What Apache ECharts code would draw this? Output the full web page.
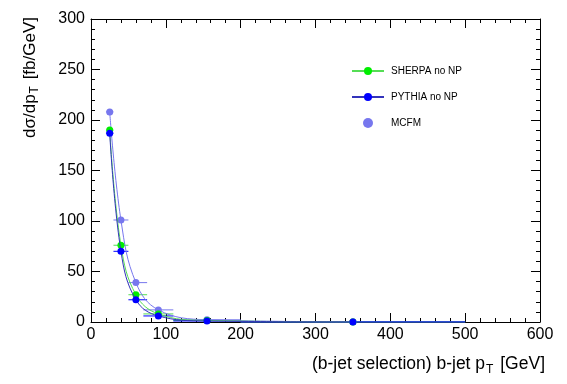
<!DOCTYPE html>
<html><head><meta charset="utf-8">
<script src="https://cdn.jsdelivr.net/npm/echarts@6/dist/echarts.min.js"></script>
<style>html,body{margin:0;padding:0;background:#fff}#c{width:567px;height:384px}</style>
</head><body><div id="c"></div>
<script>
const binCenter = [25, 40, 60, 90, 155, 350];
const binLow    = [20, 30, 50, 70, 110, 200];
const binHigh   = [30, 50, 75, 110, 200, 500];
const sherpa = [190, 76, 27, 8, 1.5, 0.1];
const pythia = [187, 70, 22, 6, 1.0, 0.1];
const mcfm   = [208, 101, 39, 12, 2.2, 0.15];
const xTicks = [0, 100, 200, 300, 400, 500, 600];
const yTicks = [0, 50, 100, 150, 200, 250, 300];

const FONT = 'Liberation Sans';
const cSherpa = '#00ee00', lSherpa = '#55dd55';
const cPythia = '#0000ff', lPythia = '#3333bb';
const cMcfm = '#7777ee';

function pts(v){ return binCenter.map((x,i)=>[x, v[i]]); }
function errData(v){ return binCenter.map((x,i)=>[binLow[i], binHigh[i], v[i]]); }
function errSeries(v, color){
  return {
    type:'custom', silent:true, z:3,
    data: errData(v),
    renderItem(params, api){
      const a = api.coord([api.value(0), api.value(2)]);
      const b = api.coord([api.value(1), api.value(2)]);
      return {type:'line', shape:{x1:a[0],y1:a[1],x2:b[0],y2:b[1]}, style:{stroke:color, lineWidth:1}};
    }
  };
}
const tickCommon = {
  axisLine:{show:true, onZero:false, lineStyle:{color:'#000', width:1}},
  axisTick:{show:true, inside:true, length:9, lineStyle:{color:'#000'}},
  minorTick:{show:true, splitNumber:5, length:4, lineStyle:{color:'#000'}},
  splitLine:{show:false}
};

const chart = echarts.init(document.getElementById('c'), null, {renderer:'canvas'});
chart.setOption({
  animation:false,
  backgroundColor:'#fff',
  grid:{left:91, right:27, top:19, bottom:62},
  legend:{
    orient:'vertical', left:346, top:61, itemGap:16, itemWidth:32, itemHeight:10,
    textStyle:{fontFamily:FONT, fontSize:10, color:'#000', padding:[0,0,0,2]},
    data:[{name:'SHERPA no NP'},{name:'PYTHIA no NP'},{name:'MCFM', icon:'circle'}]
  },
  xAxis:[Object.assign({
    type:'value', min:0, max:600, interval:100,
    axisLabel:{fontFamily:FONT, fontSize:16, color:'#000', margin:5,
      formatter:v=> xTicks.includes(v)? String(v):''},
    name:'(b-jet selection) b-jet p{sub|T} [GeV]', nameLocation:'end', nameGap:5,
    nameTextStyle:{fontFamily:FONT, fontSize:17.5, color:'#000', align:'right', verticalAlign:'top', padding:[30,0,0,0],
      rich:{sub:{fontFamily:FONT, fontSize:12, verticalAlign:'bottom', padding:[12,2,0,1]}}}
  }, tickCommon),
  Object.assign({
    type:'value', min:0, max:600, interval:100, position:'top',
    axisLabel:{show:false}
  }, tickCommon)],
  yAxis:[Object.assign({
    type:'value', min:0, max:300, interval:50,
    axisLabel:{fontFamily:FONT, fontSize:16, color:'#000', margin:6,
      formatter:v=> yTicks.includes(v)? String(v):''},
    name:'dσ/dp{sub|T} [fb/GeV]', nameLocation:'end', nameRotate:90, nameGap:0,
    nameTextStyle:{fontFamily:FONT, fontSize:17, color:'#000', align:'right', verticalAlign:'bottom', padding:[0,-2,50,0],
      rich:{sub:{fontFamily:FONT, fontSize:12, verticalAlign:'bottom', padding:[10,2,0,1]}}}
  }, tickCommon),
  Object.assign({
    type:'value', min:0, max:300, interval:50, position:'right',
    axisLabel:{show:false}
  }, tickCommon)],
  series:[
    errSeries(mcfm, cMcfm),
    errSeries(sherpa, lSherpa),
    errSeries(pythia, cPythia),
    {name:'MCFM', type:'line', data:pts(mcfm), smooth:0.4, symbol:'circle', symbolSize:7,
      itemStyle:{color:cMcfm}, lineStyle:{color:cMcfm, width:1}, z:4},
    {name:'SHERPA no NP', type:'line', data:pts(sherpa), smooth:0.4, symbol:'circle', symbolSize:7,
      itemStyle:{color:cSherpa}, lineStyle:{color:lSherpa, width:1}, z:5},
    {name:'PYTHIA no NP', type:'line', data:pts(pythia), smooth:0.4, symbol:'circle', symbolSize:7,
      itemStyle:{color:cPythia}, lineStyle:{color:lPythia, width:1}, z:6}
  ]
});
</script></body></html>
